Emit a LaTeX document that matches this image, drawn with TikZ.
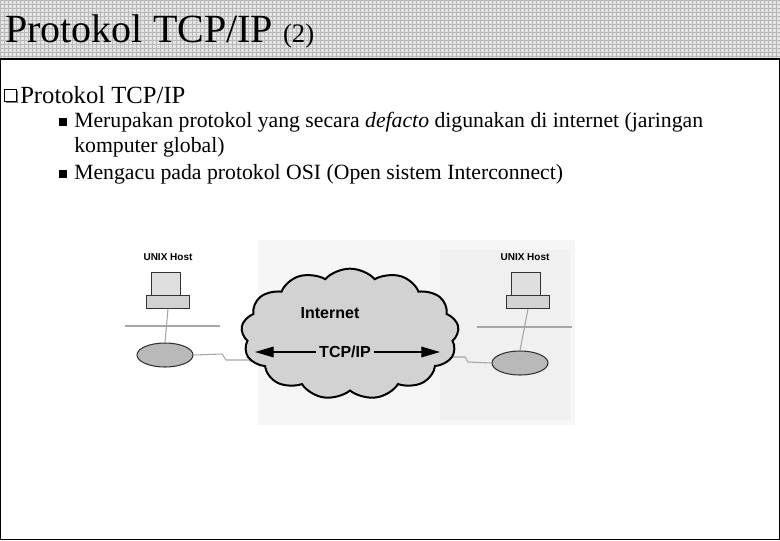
\documentclass[tikz,border=0pt]{standalone}
\usepackage{fontspec}
\setmainfont{Liberation Serif}
\newfontfamily\hv{Liberation Sans}
\usetikzlibrary{patterns,shapes.geometric,shapes.symbols,arrows.meta,shadows}
\begin{document}
\begin{tikzpicture}[x=0.75pt,y=-0.75pt,
  txt/.style={anchor=west,inner sep=0,font=\fontsize{16.3}{19}\selectfont},
  lbl/.style={inner sep=0,font=\hv\bfseries\fontsize{7.5}{9}\selectfont},
  wire/.style={draw=gray!70,line width=0.8pt},
  rtr/.style={ellipse,minimum width=42,minimum height=18,draw=black!80,fill=gray!55,line width=0.8pt},
  sq/.style={draw,fill=white,minimum size=5,inner sep=0}]
\useasboundingbox (0,0) rectangle (780,540);
\fill[gray!20] (0,0) rectangle (780,58);
\fill[pattern=grid,pattern color=gray!55] (0,0) rectangle (780,58);
\draw[line width=2.2pt] (0,59) -- (780,59);
\draw[line width=0.6pt] (0.5,59) -- (0.5,539.5) -- (779.5,539.5) -- (779.5,59);
\node[anchor=west,inner sep=0,font=\fontsize{30}{34}\selectfont] (title) at (5,31) {Protokol TCP/IP \fontsize{20}{22}\selectfont(2)};
% bullets
\node[draw,fill=white,minimum size=9,inner sep=0,drop shadow={shadow xshift=1.2pt,shadow yshift=-1.2pt,fill=black}] (b0) at (10,95) {};
\node[txt,font=\fontsize{18.5}{22}\selectfont] (t0) at (20,95) {Protokol TCP/IP};
\node[sq,fill=black] (b1) at (63,122) {};
\node[txt] (t1) at (74,122) {Merupakan protokol yang secara \textit{defacto} digunakan di internet (jaringan};
\node[txt] (t1b) at (74,147) {komputer global)};
\node[sq,fill=black] (b2) at (63,174) {};
\node[txt] (t2) at (74,174) {Mengacu pada protokol OSI (Open sistem Interconnect)};
% diagram background panels
\fill[gray!7] (258,240) rectangle (575,425);
\fill[gray!12] (440,250) rectangle (570,420);
% left host
\node[lbl] (uh1) at (168,257) {UNIX Host};
\node[draw=black!80,fill=gray!25,minimum width=22,minimum height=20,inner sep=0] (m1) at (166,286) {};
\node[draw=black!80,fill=gray!35,minimum width=32,minimum height=10,inner sep=0] (k1) at (168,302) {};
\coordinate (l1a) at (125,326); \coordinate (l1b) at (220,326);
\draw[wire] (l1a) -- (l1b);
\node[rtr] (r1) at (165,355) {};
\draw[wire] (k1.south) -- (r1.north);
% right host
\node[lbl] (uh2) at (525,257) {UNIX Host};
\node[draw=black!80,fill=gray!25,minimum width=22,minimum height=20,inner sep=0] (m2) at (526,286) {};
\node[draw=black!80,fill=gray!35,minimum width=32,minimum height=10,inner sep=0] (k2) at (528,302) {};
\coordinate (l2a) at (477,327); \coordinate (l2b) at (572,327);
\draw[wire] (l2a) -- (l2b);
\node[rtr] (r2) at (520,363) {};
\draw[wire] (k2.south) -- (r2.north);
% serial links
\draw[wire] (r1.east) -- (222,354) -- (226,360) -- (258,360);
\draw[wire] (435,357) -- (465,357) -- (468,362) -- (r2.west);
% cloud
\begin{scope}[shift={(350,334)},xscale=0.86,yscale=0.7,transform shape]
\node[cloud,cloud puffs=13,cloud puff arc=110,minimum width=190,minimum height=140,draw=black,line width=1.5pt,fill=gray!35] (cl) at (0,0) {};
\end{scope}
\node[lbl,font=\hv\bfseries\fontsize{12}{14}\selectfont] (inet) at (330,313) {Internet};
\node[lbl,font=\hv\bfseries\fontsize{12}{14}\selectfont,fill=gray!35,inner sep=2pt] (tcp) at (345,352) {TCP/IP};
\coordinate (al) at (255,352); \coordinate (ar) at (440,352);
\draw[line width=0.8pt,-{Triangle[length=14pt,width=8pt]}] (tcp.west) -- (al);
\draw[line width=0.8pt,-{Triangle[length=14pt,width=8pt]}] (tcp.east) -- (ar);
\end{tikzpicture}
\end{document}
